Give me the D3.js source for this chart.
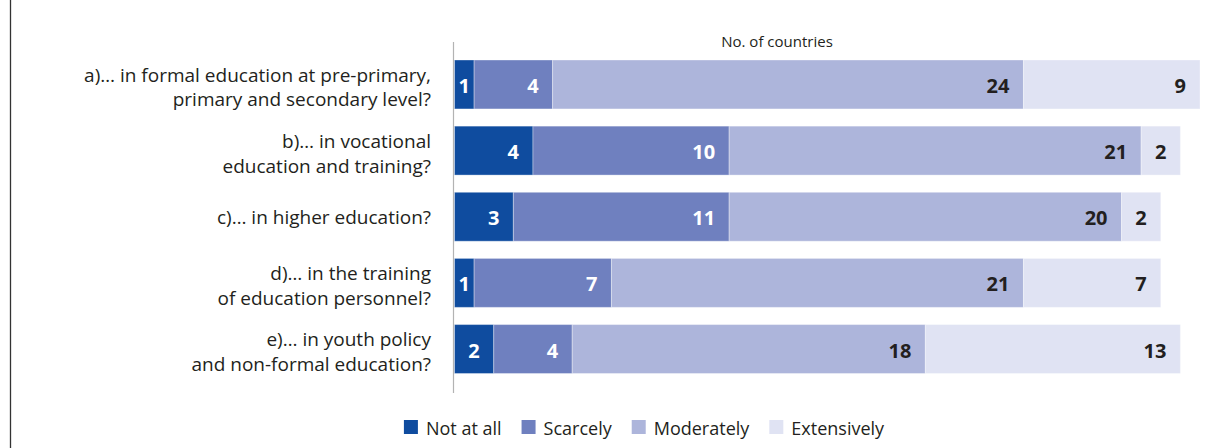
<!DOCTYPE html>
<html>
<head>
<meta charset="utf-8">
<script src="https://cdn.jsdelivr.net/npm/d3@7"></script>
<style>
  html, body { margin: 0; padding: 0; background: #fff; }
  svg { display: block; }
  text { font-family: "Open Sans", "Noto Sans", sans-serif; }
</style>
</head>
<body>
<svg id="chart" width="1231" height="448"></svg>
<script>
// Survey question rows (each label split into its printed lines)
const categories = ["a", "b", "c", "d", "e"];
const categoryLines = [
  ["a)\u2026 in formal education at pre-primary,", "primary and secondary level?"],
  ["b)\u2026 in vocational", "education and training?"],
  ["c)\u2026 in higher education?"],
  ["d)\u2026 in the training", "of education personnel?"],
  ["e)\u2026 in youth policy", "and non-formal education?"]
];

// Answer levels and number of countries per row
const levels = ["Not at all", "Scarcely", "Moderately", "Extensively"];
const notAtAll    = [1, 4, 3, 1, 2];
const scarcely    = [4, 10, 11, 7, 4];
const moderately  = [24, 21, 20, 21, 18];
const extensively = [9, 2, 2, 7, 13];

const axisTitle = "No. of countries";

const colors = ["#0f4c9f", "#6f80bf", "#adb5db", "#e0e3f3"];
const labelColors = ["#ffffff", "#ffffff", "#231f20", "#231f20"];

const svg = d3.select("#chart");

// Frame line on the left
svg.append("line")
  .attr("x1", 10.5).attr("x2", 10.5)
  .attr("y1", 0).attr("y2", 448)
  .attr("stroke", "#333").attr("stroke-width", 1.3);

const rows = categories.map((c, i) => {
  const o = { key: c };
  o[levels[0]] = notAtAll[i];
  o[levels[1]] = scarcely[i];
  o[levels[2]] = moderately[i];
  o[levels[3]] = extensively[i];
  return o;
});

const stack = d3.stack().keys(levels)(rows);

const x = d3.scaleLinear().domain([0, 38]).range([454.5, 1200]);
const y = d3.scaleBand().domain(categories).range([60, 373.5])
  .paddingInner(0.26).paddingOuter(0);

// Value axis baseline
svg.append("line")
  .attr("x1", 453.5).attr("x2", 453.5)
  .attr("y1", 42).attr("y2", 393)
  .attr("stroke", "#b3b3b3").attr("stroke-width", 1.2);

// Axis title
svg.append("text")
  .attr("x", 777).attr("y", 46.5)
  .attr("text-anchor", "middle")
  .attr("font-size", 15)
  .attr("fill", "#231f20")
  .text(axisTitle);

// Stacked segments
const layer = svg.append("g").selectAll("g")
  .data(stack).join("g")
  .attr("fill", (d, i) => colors[i]);

layer.selectAll("rect")
  .data(d => d.map(v => ({ v, key: d.key })))
  .join("rect")
  .attr("x", d => x(d.v[0]))
  .attr("y", d => y(d.v.data.key))
  .attr("width", d => x(d.v[1]) - x(d.v[0]))
  .attr("height", y.bandwidth())
  .attr("stroke", "#ffffff")
  .attr("stroke-opacity", 0.35)
  .attr("stroke-width", 1);

// Segment value labels
stack.forEach((s, li) => {
  svg.append("g").selectAll("text")
    .data(s).join("text")
    .attr("x", d => {
      const w = x(d[1]) - x(d[0]);
      return w < 30 ? (x(d[0]) + x(d[1])) / 2 : x(d[1]) - 14;
    })
    .attr("text-anchor", d => (x(d[1]) - x(d[0]) < 30 ? "middle" : "end"))
    .attr("y", d => y(d.data.key) + y.bandwidth() / 2 + 8.5)
    .attr("font-size", 20)
    .attr("font-weight", 700)
    .attr("fill", labelColors[li])
    .text(d => d[1] - d[0]);
});

// Row labels
const rowLabel = svg.append("g").selectAll("text")
  .data(categories).join("text")
  .attr("text-anchor", "end")
  .attr("font-size", 19)
  .attr("fill", "#231f20");

rowLabel.each(function (c, i) {
  const lines = categoryLines[i];
  const cy = y(c) + y.bandwidth() / 2;
  const t = d3.select(this);
  if (lines.length === 1) {
    t.append("tspan").attr("x", 431).attr("y", cy + 7.5).text(lines[0]);
  } else {
    lines.forEach((ln, k) => {
      t.append("tspan").attr("x", 431).attr("y", cy - 2.7 + k * 24.7).text(ln);
    });
  }
});

// Legend
const legend = svg.append("g");
const items = legend.selectAll("g").data(levels).join("g");
items.append("rect")
  .attr("width", 14).attr("height", 14)
  .attr("y", 420)
  .attr("fill", (d, i) => colors[i]);
items.append("text")
  .attr("x", 22).attr("y", 434.5)
  .attr("font-size", 18)
  .attr("fill", "#231f20")
  .text(d => d);

let cursor = 0;
const offsets = [];
items.each(function () {
  offsets.push(cursor);
  const w = d3.select(this).select("text").node().getComputedTextLength();
  cursor += 22 + w + 20;
});
const total = cursor - 20;
const startX = 644 - total / 2;
items.attr("transform", (d, i) => `translate(${startX + offsets[i]},0)`);
</script>
</body>
</html>
